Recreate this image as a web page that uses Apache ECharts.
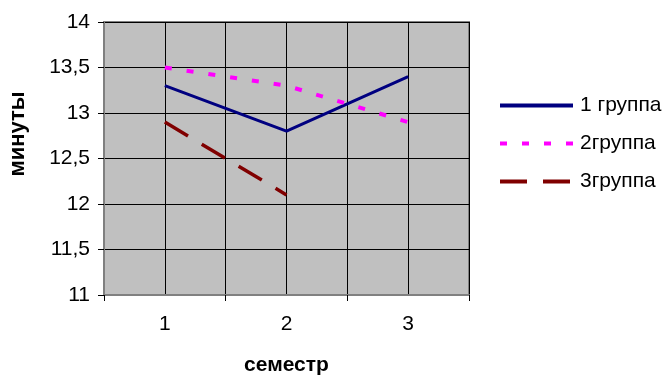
<!DOCTYPE html>
<html>
<head>
<meta charset="utf-8">
<script src="https://cdn.jsdelivr.net/npm/echarts@6/dist/echarts.min.js"></script>
<style>
  html, body { margin: 0; padding: 0; background: #fff; }
  #chart { width: 664px; height: 376px; }
</style>
</head>
<body>
<div id="chart"></div>
<script>
// Semesters on the x axis
const semesters = ['1', '2', '3'];
// Time in minutes for each group
const group1 = [13.3, 12.8, 13.4];
const group2 = [13.5, 13.3, 12.9];
const group3 = [12.9, 12.1, null];
const seriesNames = ['1 группа', '2группа', '3группа'];
// Y axis range and step
const yMin = 11, yMax = 14, yStep = 0.5;

const font = "'Liberation Sans', Arial, sans-serif";
const chart = echarts.init(document.getElementById('chart'), null, { renderer: 'canvas' });

chart.setOption({
  animation: false,
  backgroundColor: '#ffffff',
  grid: {
    left: 104, top: 22, width: 365, height: 273,
    outerBoundsMode: 'none',
    containLabel: false,
    show: true, backgroundColor: '#C0C0C0', borderColor: '#808080', borderWidth: 2
  },
  legend: {
    orient: 'vertical',
    left: 493, top: 90,
    itemWidth: 73, itemHeight: 14, itemGap: 17,
    itemStyle: { color: 'transparent', borderColor: 'transparent', borderWidth: 0 },
    lineStyle: { width: 4 },
    textStyle: { fontFamily: font, fontSize: 21, color: '#000', padding: [0, 0, 0, 2] },
    data: seriesNames
  },
  xAxis: [
    {
      type: 'category',
      data: semesters,
      boundaryGap: true,
      name: 'семестр',
      nameLocation: 'middle',
      nameGap: 60,
      nameTextStyle: { fontFamily: font, fontSize: 21, fontWeight: 'bold', color: '#000' },
      axisLine: { show: true, lineStyle: { color: '#808080', width: 2 } },
      axisTick: { show: true, length: 6, lineStyle: { color: '#000' } },
      axisLabel: { fontFamily: font, fontSize: 21, color: '#000', margin: 19 },
      splitLine: { show: false }
    },
    {
      // finer vertical grid: lines at both category centres and boundaries
      type: 'category',
      data: ['', '', '', '', '', ''],
      boundaryGap: true,
      position: 'bottom',
      axisLine: { show: false },
      axisTick: { show: false },
      axisLabel: { show: false },
      splitLine: { show: true, interval: 0, lineStyle: { color: '#000', width: 1 } }
    }
  ],
  yAxis: {
    type: 'value',
    min: yMin, max: yMax, interval: yStep,
    axisLine: { show: true, lineStyle: { color: '#808080', width: 2 } },
    axisTick: { show: true, length: 6, lineStyle: { color: '#000' } },
    axisLabel: {
      fontFamily: font, fontSize: 21, color: '#000', margin: 14,
      formatter: v => String(v).replace('.', ',')
    },
    splitLine: { show: true, lineStyle: { color: '#000', width: 1 } }
  },
  graphic: [
    {
      type: 'text',
      x: 18, y: 134,
      rotation: Math.PI / 2,
      style: {
        text: 'минуты',
        font: "bold 22px 'Liberation Sans', Arial, sans-serif",
        fill: '#000',
        align: 'center',
        verticalAlign: 'middle'
      }
    }
  ],
  series: [
    {
      name: seriesNames[0], type: 'line', data: group1,
      symbol: 'none', xAxisIndex: 0,
      lineStyle: { color: '#000080', width: 3 },
      itemStyle: { color: '#000080' }
    },
    {
      name: seriesNames[1], type: 'line', data: group2,
      symbol: 'none', xAxisIndex: 0,
      lineStyle: { color: '#FF00FF', width: 4, type: [7, 15] },
      itemStyle: { color: '#FF00FF' }
    },
    {
      name: seriesNames[2], type: 'line', data: group3,
      symbol: 'none', xAxisIndex: 0,
      lineStyle: { color: '#800000', width: 3.5, type: [27, 16] },
      itemStyle: { color: '#800000' }
    }
  ]
});
</script>
</body>
</html>
